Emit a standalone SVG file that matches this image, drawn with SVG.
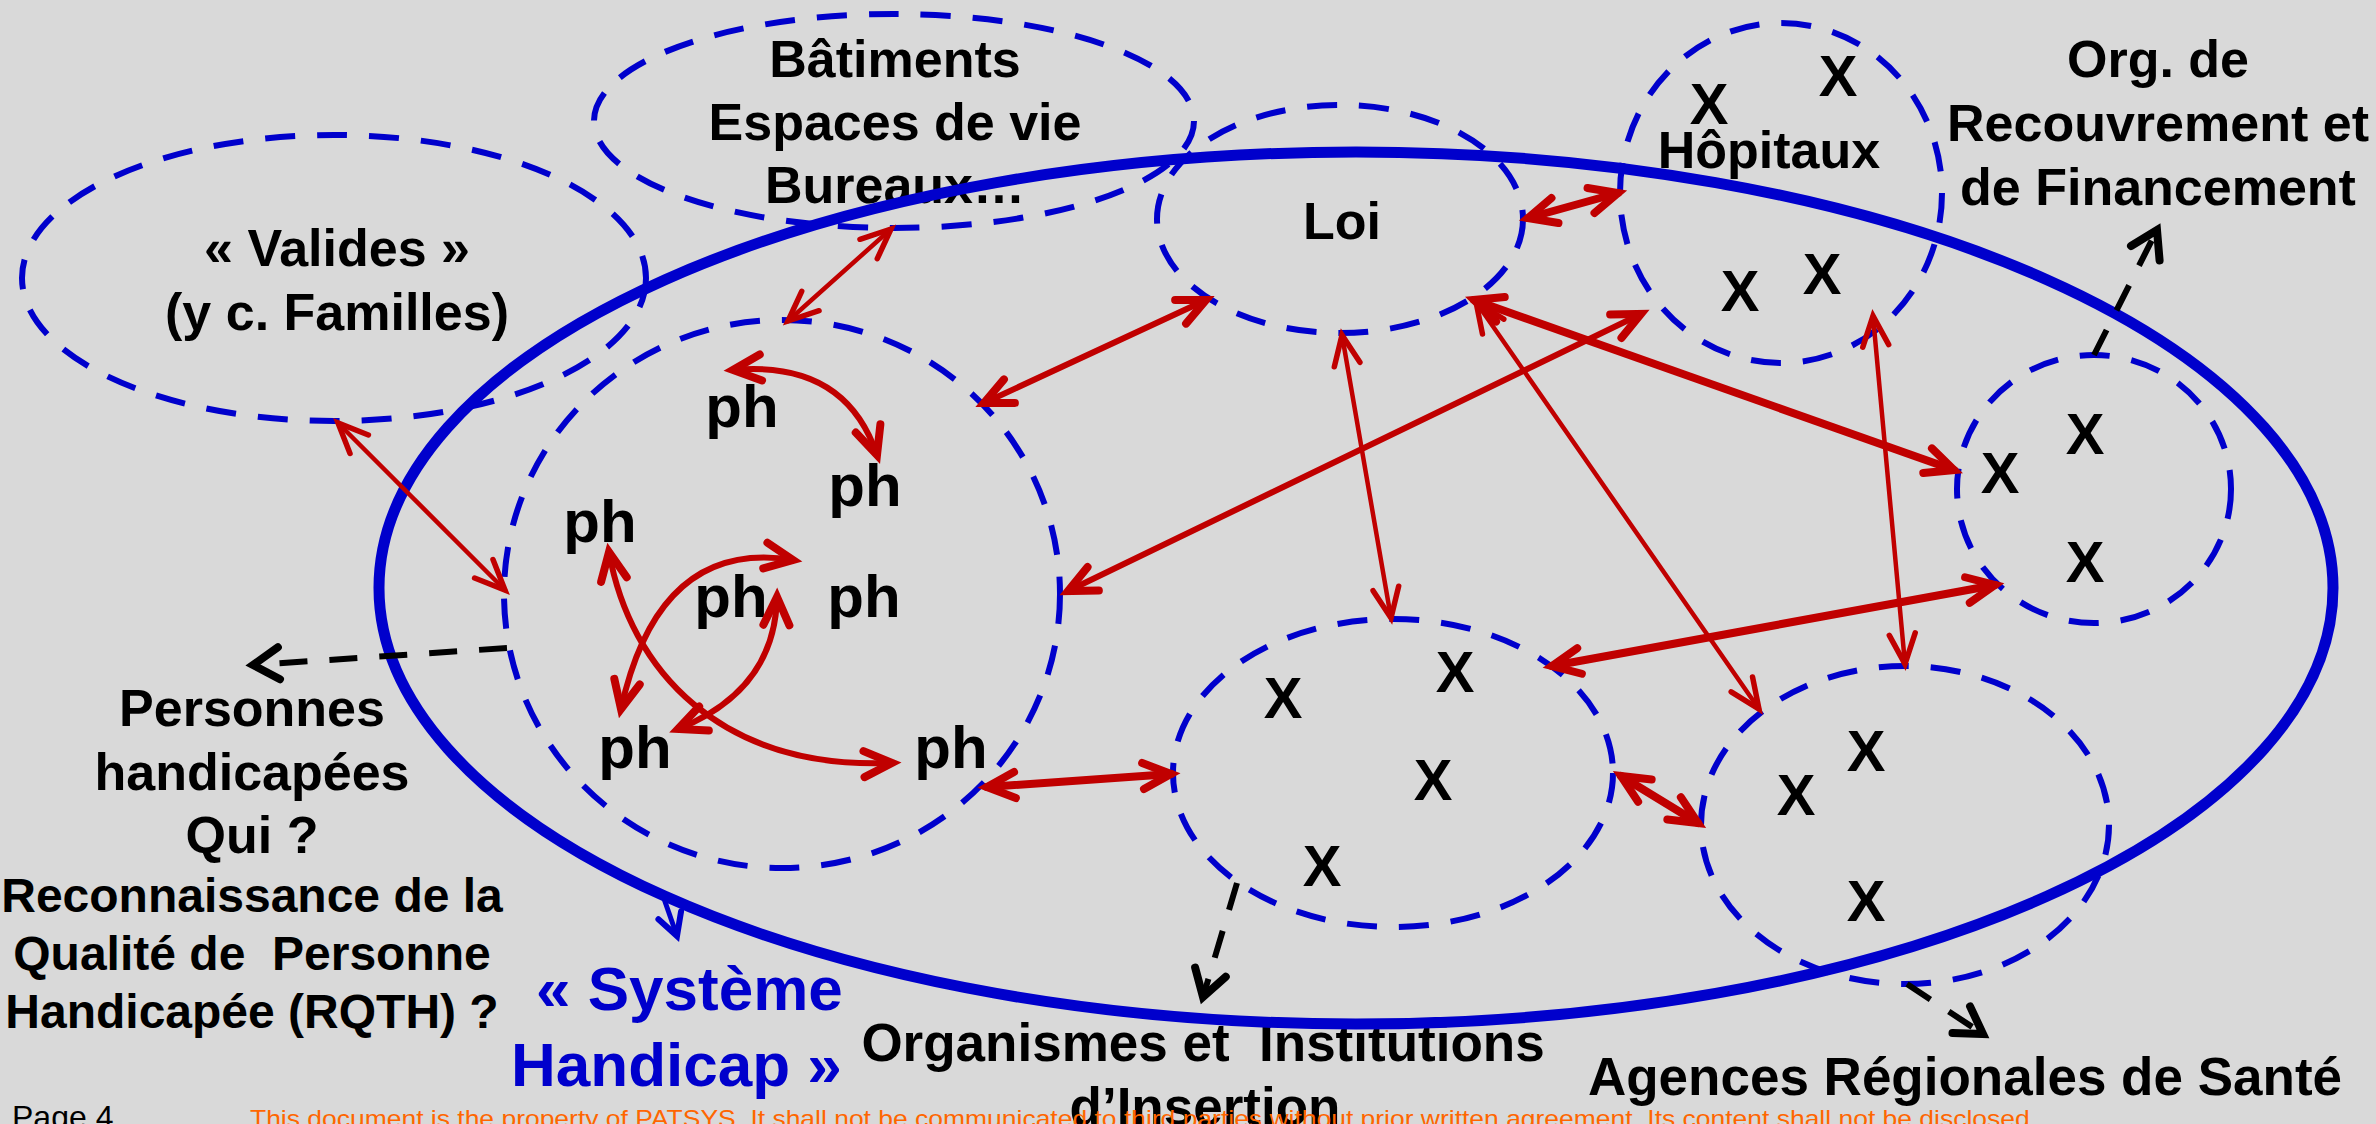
<svg xmlns="http://www.w3.org/2000/svg" width="2376" height="1124" viewBox="0 0 2376 1124">
<style>
.dash{fill:none;stroke:#0000CC;stroke-width:6;stroke-dasharray:30 22}
.solid{fill:none;stroke:#0000CC;stroke-width:11}
.t{font-family:"Liberation Sans",Arial,sans-serif;font-weight:bold;fill:#000;text-anchor:middle;font-size:52px}
.s48{font-size:48px}
.x{font-size:58px}
.ph{font-size:60px}
.big{font-size:53px}
.blue{fill:#0000CC;font-size:62px;text-anchor:start}
.red{fill:none;stroke:#C00000;stroke-linecap:round}
.rt{stroke-width:8;marker-start:url(#rh);marker-end:url(#rh)}
.rm{stroke-width:6;marker-start:url(#rh);marker-end:url(#rh)}
.rn{stroke-width:4.5;marker-start:url(#rs);marker-end:url(#rs)}
.bd{fill:none;stroke:#000;stroke-width:6;stroke-dasharray:28 22;marker-end:url(#bh)}
</style>
<defs>
<marker id="rh" markerUnits="userSpaceOnUse" orient="auto-start-reverse" refX="0" refY="0" overflow="visible" markerWidth="1" markerHeight="1">
<path d="M-28,-13 L0,0 L-28,13" fill="none" stroke="#C00000" stroke-width="8" stroke-linecap="round"/>
</marker>
<marker id="rs" markerUnits="userSpaceOnUse" orient="auto-start-reverse" refX="0" refY="0" overflow="visible" markerWidth="1" markerHeight="1">
<path d="M-30,-13 L0,0 L-30,13" fill="none" stroke="#C00000" stroke-width="5.5" stroke-linecap="round"/>
</marker>
<marker id="bh" markerUnits="userSpaceOnUse" orient="auto" refX="0" refY="0" overflow="visible" markerWidth="1" markerHeight="1">
<path d="M-26,-16 L0,0 L-26,16" fill="none" stroke="#000" stroke-width="8" stroke-linecap="round"/>
</marker>
<marker id="bb" markerUnits="userSpaceOnUse" orient="auto" refX="0" refY="0" overflow="visible" markerWidth="1" markerHeight="1">
<path d="M-22,-12 L0,0 L-22,12" fill="none" stroke="#0000CC" stroke-width="6" stroke-linecap="round"/>
</marker>
</defs>
<rect x="0" y="0" width="2376" height="1124" fill="#D9D9D9"/>

<g id="valides">
<ellipse class="dash" cx="334" cy="278" rx="312" ry="143"/>
<text class="t" x="337" y="266">« Valides »</text>
<text class="t" x="337" y="330">(y c. Familles)</text>
</g>

<g id="batiments">
<ellipse class="dash" cx="894" cy="121" rx="300" ry="107"/>
<text class="t" x="895" y="77">Bâtiments</text>
<text class="t" x="895" y="140">Espaces de vie</text>
<text class="t" x="895" y="203">Bureaux…</text>
</g>

<g id="loi">
<ellipse class="dash" cx="1340" cy="219" rx="183" ry="114"/>
<text class="t" x="1342" y="239">Loi</text>
</g>

<g id="hopitaux">
<ellipse class="dash" cx="1781" cy="193" rx="161" ry="170"/>
<text class="t" x="1769" y="168">Hôpitaux</text>
<text class="t x" x="1709" y="124">X</text>
<text class="t x" x="1838" y="96">X</text>
<text class="t x" x="1740" y="311">X</text>
<text class="t x" x="1822" y="294">X</text>
</g>

<g id="recouvrement">
<ellipse class="dash" cx="2094" cy="489" rx="137" ry="134"/>
<text class="t x" x="2085" y="454">X</text>
<text class="t x" x="2000" y="493">X</text>
<text class="t x" x="2085" y="582">X</text>
<text class="t" x="2158" y="77">Org. de</text>
<text class="t" x="2158" y="141">Recouvrement et</text>
<text class="t" x="2158" y="205">de Financement</text>
</g>

<g id="personnes">
<ellipse class="dash" cx="782" cy="594" rx="278" ry="274"/>
<text class="t ph" x="742" y="427">ph</text>
<text class="t ph" x="865" y="506">ph</text>
<text class="t ph" x="600" y="542">ph</text>
<text class="t ph" x="731" y="617">ph</text>
<text class="t ph" x="864" y="617">ph</text>
<text class="t ph" x="635" y="768">ph</text>
<text class="t ph" x="951" y="768">ph</text>
<text class="t" x="252" y="726">Personnes</text>
<text class="t" x="252" y="790">handicapées</text>
<text class="t" x="252" y="853">Qui ?</text>
<text class="t s48" x="252" y="912">Reconnaissance de la</text>
<text class="t s48" x="252" y="970" xml:space="preserve">Qualité de  Personne</text>
<text class="t s48" x="252" y="1028">Handicapée (RQTH) ?</text>
</g>

<g id="insertion">
<ellipse class="dash" cx="1393" cy="773" rx="220" ry="154"/>
<text class="t x" x="1283" y="718">X</text>
<text class="t x" x="1455" y="692">X</text>
<text class="t x" x="1433" y="800">X</text>
<text class="t x" x="1322" y="886">X</text>
<text class="t big" x="1203" y="1061" xml:space="preserve">Organismes et  Institutions</text>
<text class="t big" x="1205" y="1125">d’Insertion</text>
</g>

<g id="ars">
<ellipse class="dash" cx="1905" cy="825" rx="204" ry="159"/>
<text class="t x" x="1866" y="771">X</text>
<text class="t x" x="1796" y="815">X</text>
<text class="t x" x="1866" y="921">X</text>
<text class="t big" x="1965" y="1095">Agences Régionales de Santé</text>
</g>

<g id="systeme">
<ellipse class="solid" cx="1356" cy="588" rx="977" ry="436"/>
<text class="t blue" x="536" y="1010">« Système</text>
<text class="t blue" x="511" y="1086">Handicap »</text>
</g>

<g id="connectors">
<line class="red rn" x1="338" y1="423" x2="505" y2="590"/>
<line class="red rn" x1="891" y1="229" x2="788" y2="321"/>
<line class="red rm" x1="984" y1="403" x2="1206" y2="300"/>
<line class="red rt" x1="1528" y1="218" x2="1618" y2="193"/>
<line class="red rm" x1="1068" y1="591" x2="1641" y2="314"/>
<line class="red rn" x1="1342" y1="335" x2="1391" y2="618"/>
<line class="red rt" x1="1474" y1="300" x2="1954" y2="470"/>
<line class="red rn" x1="1476" y1="302" x2="1759" y2="709"/>
<line class="red rn" x1="1873" y1="316" x2="1905" y2="664"/>
<line class="red rt" x1="1552" y1="666" x2="1995" y2="585"/>
<line class="red rt" x1="987" y1="787" x2="1171" y2="774"/>
<line class="red rt" x1="1621" y1="776" x2="1698" y2="823"/>
<path class="red rm" d="M733,370 Q845,360 877,455"/>
<path class="red rm" d="M609,552 C630,670 720,770 892,763"/>
<path class="red rm" d="M621,709 C645,600 700,545 793,560"/>
<path class="red rm" d="M678,729 Q775,690 777,597"/>
<line class="bd" x1="507" y1="648" x2="253" y2="665"/>
<line class="bd" x1="1237" y1="883" x2="1203" y2="997"/>
<line class="bd" x1="1907" y1="984" x2="1983" y2="1034"/>
<line class="bd" x1="2094" y1="355" x2="2157" y2="230"/>
<line x1="662" y1="893" x2="677" y2="936" stroke="#0000CC" stroke-width="5" marker-end="url(#bb)"/>
</g>

<text x="12" y="1128" font-family="Liberation Sans, Arial, sans-serif" font-size="32" fill="#000">Page 4</text>
<text x="250" y="1127" font-family="Liberation Sans, Arial, sans-serif" font-size="24" fill="#FF6600" textLength="1787" lengthAdjust="spacingAndGlyphs">This document is the property of PATSYS. It shall not be communicated to third parties without prior written agreement. Its content shall not be disclosed.</text>
</svg>
